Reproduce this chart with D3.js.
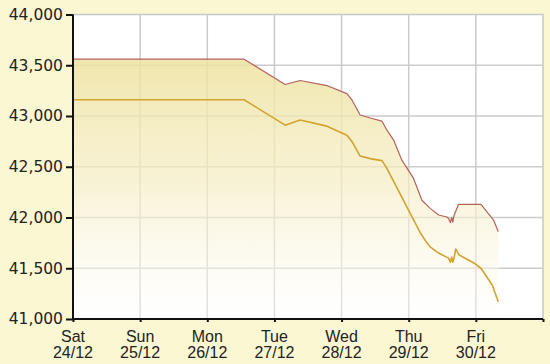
<!DOCTYPE html>
<meta charset="utf-8">
<style>
body { margin: 0; background: #fbf7d2; }
svg { display: block; }
.grid line { stroke: #cbcbcb; stroke-width: 1.5; }
.axis path, .axis line { stroke: #111; stroke-width: 2; fill: none; }
.yaxis text { font-family: "DejaVu Sans", sans-serif; font-size: 15.5px; fill: #222; }
.xaxis text { font-family: "Liberation Sans", Arial, sans-serif; font-size: 16px; fill: #222; }
</style>
<body>
<script src="https://d3js.org/d3.v7.min.js"></script>
<script>

var width = 550;
var height = 364;
var margin = {top: 14.5, right: 7, bottom: 45, left: 73};

// day offsets since Sat 24/12 00:00
var dayNames = ['Sat', 'Sun', 'Mon', 'Tue', 'Wed', 'Thu', 'Fri'];
var dayDates = ['24/12', '25/12', '26/12', '27/12', '28/12', '29/12', '30/12'];
var yTicks = [41000, 41500, 42000, 42500, 43000, 43500, 44000];

// sell price (upper, red)
var sellDays = [0, 2.548, 3.159, 3.383, 3.781, 4.079, 4.153, 4.277, 4.426, 4.601, 4.675,
  4.773, 4.898, 5.072, 5.197, 5.320, 5.444, 5.569, 5.593, 5.62, 5.64, 5.655, 5.675,
  5.742, 6.076, 6.264, 6.334];
var sellValues = [43560, 43560, 43310, 43350, 43300, 43220, 43160, 43010, 42980, 42950, 42860,
  42765, 42565, 42385, 42170, 42090, 42025, 42005, 41990, 41950, 42000, 41955, 42020,
  42130, 42130, 41975, 41860];

// buy price (lower, yellow)
var buyDays = [0, 2.548, 3.159, 3.383, 3.781, 4.079, 4.153, 4.277, 4.426, 4.601, 4.675,
  5.171, 5.26, 5.32, 5.444, 5.593, 5.62, 5.64, 5.655, 5.675, 5.70, 5.752, 5.976, 6.076,
  6.244, 6.334];
var buyValues = [43160, 43160, 42910, 42960, 42900, 42810, 42750, 42605, 42580, 42560, 42485,
  41850, 41760, 41710, 41650, 41600, 41560, 41610, 41560, 41600, 41690, 41630, 41550, 41500,
  41335, 41170];

var sell = sellDays.map((d, i) => ({d: d, v: sellValues[i]}));
var buy = buyDays.map((d, i) => ({d: d, v: buyValues[i]}));

var svg = d3.select('body').append('svg')
  .attr('width', width)
  .attr('height', height);

var x = d3.scaleLinear().domain([0, 7]).range([margin.left, width - margin.right]);
var y = d3.scaleLinear().domain([41000, 44000]).range([height - margin.bottom, margin.top]);

var defs = svg.append('defs');
var grad = defs.append('linearGradient')
  .attr('id', 'fillGrad')
  .attr('gradientUnits', 'userSpaceOnUse')
  .attr('x1', 0).attr('y1', y(43560))
  .attr('x2', 0).attr('y2', y(41000));
grad.append('stop').attr('offset', 0).attr('stop-color', '#ede29f').attr('stop-opacity', 0.85);
grad.append('stop').attr('offset', 0.5).attr('stop-color', '#f6eec6').attr('stop-opacity', 0.7);
grad.append('stop').attr('offset', 1).attr('stop-color', '#ffffff').attr('stop-opacity', 0.4);

// plot background
svg.append('rect')
  .attr('x', x(0)).attr('y', y(44000))
  .attr('width', x(7) - x(0)).attr('height', y(41000) - y(44000))
  .attr('fill', '#fff')
  .attr('stroke', '#c8c8c8')
  .attr('stroke-width', 1.5);

// grid
var grid = svg.append('g').attr('class', 'grid');
grid.selectAll('.v').data(d3.range(1, 7)).enter().append('line')
  .attr('x1', d => x(d)).attr('x2', d => x(d))
  .attr('y1', y(44000)).attr('y2', y(41000));
grid.selectAll('.h').data(yTicks.slice(1, -1)).enter().append('line')
  .attr('x1', x(0)).attr('x2', x(7))
  .attr('y1', d => y(d)).attr('y2', d => y(d));

// area under the sell line
svg.append('path')
  .datum(sell)
  .attr('fill', 'url(#fillGrad)')
  .attr('d', d3.area().x(d => x(d.d)).y0(y(41000)).y1(d => y(d.v)));

var line = d3.line().x(d => x(d.d)).y(d => y(d.v));

svg.append('path').datum(buy)
  .attr('fill', 'none')
  .attr('stroke', '#d3a32e')
  .attr('stroke-width', 1.6)
  .attr('stroke-linejoin', 'round')
  .attr('d', line);

svg.append('path').datum(sell)
  .attr('fill', 'none')
  .attr('stroke', '#b5625a')
  .attr('stroke-width', 1.2)
  .attr('stroke-linejoin', 'round')
  .attr('d', line);

// axes
var yAxis = d3.axisLeft(y)
  .tickValues(yTicks)
  .tickSize(7)
  .tickPadding(3)
  .tickFormat(d3.format(','));
svg.append('g')
  .attr('class', 'axis yaxis')
  .attr('transform', 'translate(' + x(0) + ',0)')
  .call(yAxis)
  .call(g => g.select('.domain').attr('d', 'M0,' + y(44000) + 'V' + y(41000)));

var xAxis = d3.axisBottom(x)
  .tickValues(d3.range(0, 8))
  .tickSize(3)
  .tickFormat('');
var xg = svg.append('g')
  .attr('class', 'axis xaxis')
  .attr('transform', 'translate(0,' + y(41000) + ')')
  .call(xAxis);
xg.select('.domain').attr('d', 'M' + x(0) + ',0H' + x(7));

var lab = xg.selectAll('.daylabel').data(dayNames).enter().append('text')
  .attr('class', 'daylabel')
  .attr('text-anchor', 'middle')
  .attr('x', (d, i) => x(i));
lab.append('tspan').attr('x', (d, i) => x(i)).attr('y', 22.5).text(d => d);
lab.append('tspan').attr('x', (d, i) => x(i)).attr('y', 38.5).text((d, i) => dayDates[i]);

</script>
</body>
</html>
